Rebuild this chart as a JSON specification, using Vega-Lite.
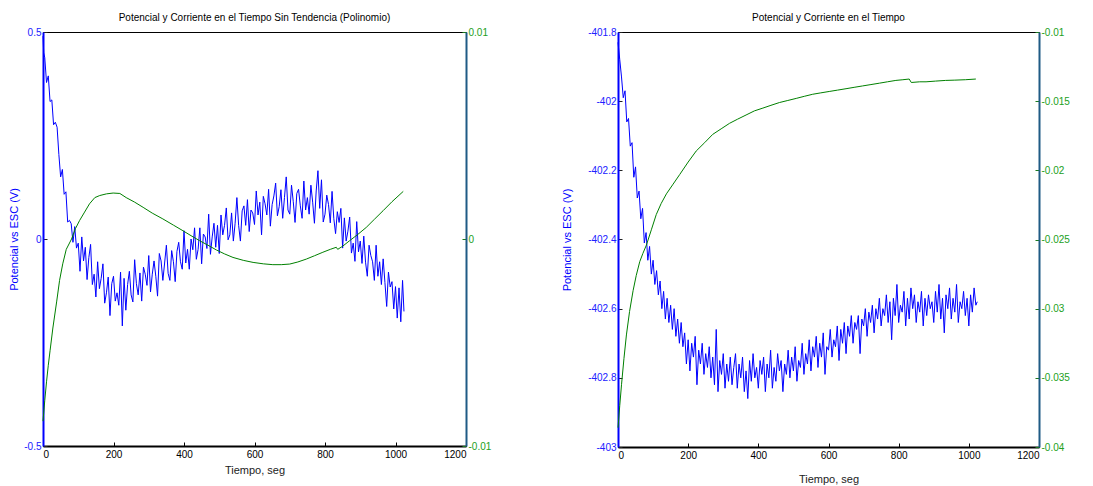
{
  "$schema": "https://vega.github.io/schema/vega-lite/v6.json",
  "background": "white",
  "padding": {"left": 7, "top": 12, "right": 0, "bottom": 0},
  "spacing": 68,
  "config": {
    "locale": {"number": {"decimal": ".", "thousands": ",", "grouping": [3], "currency": ["", ""], "minus": "-"}},
    "view": {"stroke": "black", "strokeWidth": 1},
    "font": "Liberation Sans",
    "axis": {"grid": false, "labelFont": "Liberation Sans", "labelFontSize": 10, "titleFont": "Liberation Sans", "titleFontSize": 11, "titleFontWeight": "normal", "tickSize": -4, "labelPadding": 7},
    "title": {"font": "Liberation Sans", "fontSize": 10, "fontWeight": "normal", "color": "black", "offset": 4}
  },
  "datasets": {
    "pot_izq": [
      {"tiempo":0,"valor":0.49},{"tiempo":2,"valor":0.45},{"tiempo":5,"valor":0.438},{"tiempo":10,"valor":0.378},{"tiempo":15,"valor":0.394},{"tiempo":20,"valor":0.332},{"tiempo":25,"valor":0.336},{"tiempo":30,"valor":0.276},{"tiempo":35,"valor":0.282},{"tiempo":40,"valor":0.27},{"tiempo":45,"valor":0.204},{"tiempo":50,"valor":0.15},{"tiempo":55,"valor":0.168},{"tiempo":60,"valor":0.108},{"tiempo":65,"valor":0.114},{"tiempo":70,"valor":0.041},{"tiempo":75,"valor":0.045},{"tiempo":80,"valor":0.037},{"tiempo":85,"valor":-0.008},{"tiempo":90,"valor":0.03},{"tiempo":95,"valor":-0.022},
      {"tiempo":100,"valor":-0.01},{"tiempo":105,"valor":-0.078},{"tiempo":110,"valor":0.005},{"tiempo":115,"valor":-0.053},{"tiempo":120,"valor":-0.02},{"tiempo":125,"valor":-0.098},{"tiempo":130,"valor":-0.045},{"tiempo":135,"valor":-0.013},{"tiempo":140,"valor":-0.11},{"tiempo":145,"valor":-0.085},{"tiempo":150,"valor":-0.14},{"tiempo":155,"valor":-0.055},{"tiempo":160,"valor":-0.12},{"tiempo":165,"valor":-0.095},{"tiempo":170,"valor":-0.06},{"tiempo":175,"valor":-0.155},{"tiempo":180,"valor":-0.13},{"tiempo":185,"valor":-0.092},{"tiempo":190,"valor":-0.185},{"tiempo":195,"valor":-0.108},
      {"tiempo":200,"valor":-0.09},{"tiempo":205,"valor":-0.15},{"tiempo":210,"valor":-0.13},{"tiempo":215,"valor":-0.16},{"tiempo":220,"valor":-0.08},{"tiempo":225,"valor":-0.21},{"tiempo":230,"valor":-0.095},{"tiempo":235,"valor":-0.172},{"tiempo":240,"valor":-0.11},{"tiempo":245,"valor":-0.078},{"tiempo":250,"valor":-0.135},{"tiempo":255,"valor":-0.152},{"tiempo":260,"valor":-0.05},{"tiempo":265,"valor":-0.108},{"tiempo":270,"valor":-0.135},{"tiempo":275,"valor":-0.082},{"tiempo":280,"valor":-0.15},{"tiempo":285,"valor":-0.068},{"tiempo":290,"valor":-0.085},{"tiempo":295,"valor":-0.112},
      {"tiempo":300,"valor":-0.04},{"tiempo":305,"valor":-0.128},{"tiempo":310,"valor":-0.085},{"tiempo":315,"valor":-0.053},{"tiempo":320,"valor":-0.09},{"tiempo":325,"valor":-0.138},{"tiempo":330,"valor":-0.035},{"tiempo":335,"valor":-0.053},{"tiempo":340,"valor":-0.1},{"tiempo":345,"valor":-0.058},{"tiempo":350,"valor":-0.015},{"tiempo":355,"valor":-0.083},{"tiempo":360,"valor":-0.1},{"tiempo":365,"valor":-0.028},{"tiempo":370,"valor":-0.055},{"tiempo":375,"valor":-0.103},{"tiempo":380,"valor":-0.03},{"tiempo":385,"valor":-0.008},{"tiempo":390,"valor":-0.055},{"tiempo":395,"valor":-0.073},
      {"tiempo":400,"valor":0.02},{"tiempo":405,"valor":-0.058},{"tiempo":410,"valor":-0.025},{"tiempo":415,"valor":-0.073},{"tiempo":420,"valor":0.0},{"tiempo":425,"valor":-0.026},{"tiempo":430,"valor":0.027},{"tiempo":435,"valor":-0.049},{"tiempo":440,"valor":-0.025},{"tiempo":445,"valor":0.027},{"tiempo":450,"valor":-0.06},{"tiempo":455,"valor":0.012},{"tiempo":460,"valor":0.005},{"tiempo":465,"valor":-0.023},{"tiempo":470,"valor":0.06},{"tiempo":475,"valor":-0.037},{"tiempo":480,"valor":0.005},{"tiempo":485,"valor":0.038},{"tiempo":490,"valor":-0.02},{"tiempo":495,"valor":0.033},
      {"tiempo":500,"valor":-0.035},{"tiempo":505,"valor":0.058},{"tiempo":510,"valor":0.01},{"tiempo":515,"valor":0.033},{"tiempo":520,"valor":0.075},{"tiempo":525,"valor":-0.002},{"tiempo":530,"valor":0.01},{"tiempo":535,"valor":0.063},{"tiempo":540,"valor":-0.005},{"tiempo":545,"valor":0.038},{"tiempo":550,"valor":0.1},{"tiempo":555,"valor":0.033},{"tiempo":560,"valor":-0.005},{"tiempo":565,"valor":0.068},{"tiempo":570,"valor":0.08},{"tiempo":575,"valor":0.033},{"tiempo":580,"valor":0.095},{"tiempo":585,"valor":0.018},{"tiempo":590,"valor":0.07},{"tiempo":595,"valor":0.063},
      {"tiempo":600,"valor":0.035},{"tiempo":605,"valor":0.116},{"tiempo":610,"valor":0.058},{"tiempo":615,"valor":0.089},{"tiempo":620,"valor":0.01},{"tiempo":625,"valor":0.103},{"tiempo":630,"valor":0.085},{"tiempo":635,"valor":0.058},{"tiempo":640,"valor":0.12},{"tiempo":645,"valor":0.031},{"tiempo":650,"valor":0.083},{"tiempo":655,"valor":0.104},{"tiempo":660,"valor":0.135},{"tiempo":665,"valor":0.056},{"tiempo":670,"valor":0.078},{"tiempo":675,"valor":0.119},{"tiempo":680,"valor":0.05},{"tiempo":685,"valor":0.1},{"tiempo":690,"valor":0.15},{"tiempo":695,"valor":0.07},
      {"tiempo":700,"valor":0.06},{"tiempo":705,"valor":0.13},{"tiempo":710,"valor":0.09},{"tiempo":715,"valor":0.04},{"tiempo":720,"valor":0.11},{"tiempo":725,"valor":0.12},{"tiempo":730,"valor":0.08},{"tiempo":735,"valor":0.05},{"tiempo":740,"valor":0.14},{"tiempo":745,"valor":0.07},{"tiempo":750,"valor":0.1},{"tiempo":755,"valor":0.06},{"tiempo":760,"valor":0.13},{"tiempo":765,"valor":0.089},{"tiempo":770,"valor":0.038},{"tiempo":775,"valor":0.116},{"tiempo":780,"valor":0.165},{"tiempo":785,"valor":0.074},{"tiempo":790,"valor":0.143},{"tiempo":795,"valor":0.041},
      {"tiempo":800,"valor":0.06},{"tiempo":805,"valor":0.106},{"tiempo":810,"valor":0.083},{"tiempo":815,"valor":0.039},{"tiempo":820,"valor":0.115},{"tiempo":825,"valor":0.049},{"tiempo":830,"valor":0.013},{"tiempo":835,"valor":0.066},{"tiempo":840,"valor":0.04},{"tiempo":845,"valor":0.074},{"tiempo":850,"valor":-0.022},{"tiempo":855,"valor":0.051},{"tiempo":860,"valor":-0.005},{"tiempo":865,"valor":0.019},{"tiempo":870,"valor":0.053},{"tiempo":875,"valor":-0.034},{"tiempo":880,"valor":-0.01},{"tiempo":885,"valor":-0.054},{"tiempo":890,"valor":0.042},{"tiempo":895,"valor":-0.031},
      {"tiempo":900,"valor":-0.005},{"tiempo":905,"valor":-0.059},{"tiempo":910,"valor":0.007},{"tiempo":915,"valor":-0.056},{"tiempo":920,"valor":-0.09},{"tiempo":925,"valor":-0.015},{"tiempo":930,"valor":-0.04},{"tiempo":935,"valor":-0.055},{"tiempo":940,"valor":-0.1},{"tiempo":945,"valor":-0.015},{"tiempo":950,"valor":-0.09},{"tiempo":955,"valor":-0.055},{"tiempo":960,"valor":-0.11},{"tiempo":965,"valor":-0.048},{"tiempo":970,"valor":-0.105},{"tiempo":975,"valor":-0.163},{"tiempo":980,"valor":-0.08},{"tiempo":985,"valor":-0.116},{"tiempo":990,"valor":-0.103},{"tiempo":995,"valor":-0.169},
      {"tiempo":1000,"valor":-0.115},{"tiempo":1005,"valor":-0.191},{"tiempo":1010,"valor":-0.118},{"tiempo":1015,"valor":-0.2},{"tiempo":1020,"valor":-0.1},{"tiempo":1024,"valor":-0.175}
    ],
    "cor_izq": [
      {"tiempo":0,"valor":-0.0088},{"tiempo":5,"valor":-0.0078},{"tiempo":10,"valor":-0.0069},{"tiempo":15,"valor":-0.0061},{"tiempo":20,"valor":-0.0054},{"tiempo":28,"valor":-0.0043},{"tiempo":39,"valor":-0.003},{"tiempo":47,"valor":-0.002},{"tiempo":56,"valor":-0.0012},{"tiempo":66,"valor":-0.0005},{"tiempo":81,"valor":0.0},{"tiempo":92,"valor":0.0005},{"tiempo":104,"valor":0.0009},{"tiempo":118,"valor":0.0013},{"tiempo":132,"valor":0.0017},{"tiempo":147,"valor":0.002},{"tiempo":161,"valor":0.0021},{"tiempo":180,"valor":0.00218},{"tiempo":199,"valor":0.00222},{"tiempo":218,"valor":0.0022},{"tiempo":236,"valor":0.002},{"tiempo":260,"valor":0.00178},{"tiempo":284,"valor":0.00153},{"tiempo":310,"valor":0.00125},{"tiempo":340,"valor":0.00097},{"tiempo":370,"valor":0.00067},{"tiempo":397,"valor":0.0004},{"tiempo":420,"valor":0.00016},{"tiempo":444,"valor":-0.00008},{"tiempo":468,"valor":-0.0003},{"tiempo":492,"valor":-0.00053},{"tiempo":515,"valor":-0.00072},{"tiempo":539,"valor":-0.00089},{"tiempo":568,"valor":-0.00103},{"tiempo":596,"valor":-0.00113},{"tiempo":625,"valor":-0.0012},{"tiempo":652,"valor":-0.00124},{"tiempo":676,"valor":-0.00124},{"tiempo":700,"valor":-0.00121},{"tiempo":723,"valor":-0.00111},{"tiempo":747,"valor":-0.00097},{"tiempo":770,"valor":-0.00081},{"tiempo":794,"valor":-0.00064},{"tiempo":815,"valor":-0.0005},{"tiempo":832,"valor":-0.0004},{"tiempo":836,"valor":-0.0005},{"tiempo":850,"valor":-0.00035},{"tiempo":870,"valor":-0.00008},{"tiempo":893,"valor":0.00022},{"tiempo":917,"valor":0.00056},{"tiempo":940,"valor":0.00095},{"tiempo":965,"valor":0.00137},{"tiempo":990,"valor":0.0018},{"tiempo":1022,"valor":0.0023}
    ],
    "pot_der": [
      {"tiempo":0,"valor":-401.83},{"tiempo":5,"valor":-401.88},{"tiempo":10,"valor":-401.93},{"tiempo":15,"valor":-401.99},{"tiempo":20,"valor":-401.97},{"tiempo":25,"valor":-402.06},{"tiempo":30,"valor":-402.05},{"tiempo":35,"valor":-402.13},{"tiempo":40,"valor":-402.12},{"tiempo":45,"valor":-402.22},{"tiempo":50,"valor":-402.19},{"tiempo":55,"valor":-402.28},{"tiempo":60,"valor":-402.26},{"tiempo":65,"valor":-402.34},{"tiempo":70,"valor":-402.31},{"tiempo":75,"valor":-402.41},{"tiempo":80,"valor":-402.38},{"tiempo":85,"valor":-402.46},{"tiempo":90,"valor":-402.42},{"tiempo":95,"valor":-402.5},
      {"tiempo":100,"valor":-402.46},{"tiempo":105,"valor":-402.53},{"tiempo":110,"valor":-402.49},{"tiempo":115,"valor":-402.56},{"tiempo":120,"valor":-402.52},{"tiempo":125,"valor":-402.6},{"tiempo":130,"valor":-402.55},{"tiempo":135,"valor":-402.63},{"tiempo":140,"valor":-402.57},{"tiempo":145,"valor":-402.64},{"tiempo":150,"valor":-402.59},{"tiempo":155,"valor":-402.66},{"tiempo":160,"valor":-402.6},{"tiempo":165,"valor":-402.68},{"tiempo":170,"valor":-402.63},{"tiempo":175,"valor":-402.7},{"tiempo":180,"valor":-402.64},{"tiempo":185,"valor":-402.71},{"tiempo":190,"valor":-402.67},{"tiempo":195,"valor":-402.76},
      {"tiempo":200,"valor":-402.69},{"tiempo":205,"valor":-402.78},{"tiempo":210,"valor":-402.7},{"tiempo":215,"valor":-402.74},{"tiempo":220,"valor":-402.68},{"tiempo":225,"valor":-402.82},{"tiempo":230,"valor":-402.72},{"tiempo":235,"valor":-402.76},{"tiempo":240,"valor":-402.7},{"tiempo":245,"valor":-402.79},{"tiempo":250,"valor":-402.73},{"tiempo":255,"valor":-402.77},{"tiempo":260,"valor":-402.71},{"tiempo":265,"valor":-402.8},{"tiempo":270,"valor":-402.74},{"tiempo":275,"valor":-402.82},{"tiempo":280,"valor":-402.66},{"tiempo":285,"valor":-402.84},{"tiempo":290,"valor":-402.75},{"tiempo":295,"valor":-402.79},
      {"tiempo":300,"valor":-402.73},{"tiempo":305,"valor":-402.83},{"tiempo":310,"valor":-402.76},{"tiempo":315,"valor":-402.81},{"tiempo":320,"valor":-402.74},{"tiempo":325,"valor":-402.82},{"tiempo":330,"valor":-402.77},{"tiempo":335,"valor":-402.73},{"tiempo":340,"valor":-402.83},{"tiempo":345,"valor":-402.76},{"tiempo":350,"valor":-402.8},{"tiempo":355,"valor":-402.74},{"tiempo":360,"valor":-402.84},{"tiempo":365,"valor":-402.78},{"tiempo":370,"valor":-402.86},{"tiempo":375,"valor":-402.75},{"tiempo":380,"valor":-402.81},{"tiempo":385,"valor":-402.73},{"tiempo":390,"valor":-402.8},{"tiempo":395,"valor":-402.77},
      {"tiempo":400,"valor":-402.83},{"tiempo":405,"valor":-402.75},{"tiempo":410,"valor":-402.79},{"tiempo":415,"valor":-402.74},{"tiempo":420,"valor":-402.84},{"tiempo":425,"valor":-402.76},{"tiempo":430,"valor":-402.8},{"tiempo":435,"valor":-402.72},{"tiempo":440,"valor":-402.83},{"tiempo":445,"valor":-402.77},{"tiempo":450,"valor":-402.81},{"tiempo":455,"valor":-402.73},{"tiempo":460,"valor":-402.78},{"tiempo":465,"valor":-402.75},{"tiempo":470,"valor":-402.84},{"tiempo":475,"valor":-402.76},{"tiempo":480,"valor":-402.79},{"tiempo":485,"valor":-402.72},{"tiempo":490,"valor":-402.8},{"tiempo":495,"valor":-402.74},
      {"tiempo":500,"valor":-402.78},{"tiempo":505,"valor":-402.71},{"tiempo":510,"valor":-402.81},{"tiempo":515,"valor":-402.75},{"tiempo":520,"valor":-402.77},{"tiempo":525,"valor":-402.7},{"tiempo":530,"valor":-402.79},{"tiempo":535,"valor":-402.73},{"tiempo":540,"valor":-402.76},{"tiempo":545,"valor":-402.69},{"tiempo":550,"valor":-402.78},{"tiempo":555,"valor":-402.71},{"tiempo":560,"valor":-402.74},{"tiempo":565,"valor":-402.68},{"tiempo":570,"valor":-402.77},{"tiempo":575,"valor":-402.7},{"tiempo":580,"valor":-402.74},{"tiempo":585,"valor":-402.67},{"tiempo":590,"valor":-402.79},{"tiempo":595,"valor":-402.71},
      {"tiempo":600,"valor":-402.72},{"tiempo":605,"valor":-402.66},{"tiempo":610,"valor":-402.74},{"tiempo":615,"valor":-402.69},{"tiempo":620,"valor":-402.71},{"tiempo":625,"valor":-402.65},{"tiempo":630,"valor":-402.75},{"tiempo":635,"valor":-402.66},{"tiempo":640,"valor":-402.7},{"tiempo":645,"valor":-402.64},{"tiempo":650,"valor":-402.73},{"tiempo":655,"valor":-402.65},{"tiempo":660,"valor":-402.68},{"tiempo":665,"valor":-402.62},{"tiempo":670,"valor":-402.7},{"tiempo":675,"valor":-402.64},{"tiempo":680,"valor":-402.66},{"tiempo":685,"valor":-402.62},{"tiempo":690,"valor":-402.73},{"tiempo":695,"valor":-402.63},
      {"tiempo":700,"valor":-402.65},{"tiempo":705,"valor":-402.6},{"tiempo":710,"valor":-402.68},{"tiempo":715,"valor":-402.61},{"tiempo":720,"valor":-402.64},{"tiempo":725,"valor":-402.59},{"tiempo":730,"valor":-402.67},{"tiempo":735,"valor":-402.6},{"tiempo":740,"valor":-402.63},{"tiempo":745,"valor":-402.57},{"tiempo":750,"valor":-402.65},{"tiempo":755,"valor":-402.6},{"tiempo":760,"valor":-402.62},{"tiempo":765,"valor":-402.56},{"tiempo":770,"valor":-402.64},{"tiempo":775,"valor":-402.58},{"tiempo":780,"valor":-402.69},{"tiempo":785,"valor":-402.57},{"tiempo":790,"valor":-402.62},{"tiempo":795,"valor":-402.53},
      {"tiempo":800,"valor":-402.64},{"tiempo":805,"valor":-402.59},{"tiempo":810,"valor":-402.61},{"tiempo":815,"valor":-402.55},{"tiempo":820,"valor":-402.65},{"tiempo":825,"valor":-402.57},{"tiempo":830,"valor":-402.63},{"tiempo":835,"valor":-402.54},{"tiempo":840,"valor":-402.6},{"tiempo":845,"valor":-402.56},{"tiempo":850,"valor":-402.64},{"tiempo":855,"valor":-402.58},{"tiempo":860,"valor":-402.61},{"tiempo":865,"valor":-402.55},{"tiempo":870,"valor":-402.65},{"tiempo":875,"valor":-402.57},{"tiempo":880,"valor":-402.62},{"tiempo":885,"valor":-402.56},{"tiempo":890,"valor":-402.6},{"tiempo":895,"valor":-402.58},
      {"tiempo":900,"valor":-402.64},{"tiempo":905,"valor":-402.55},{"tiempo":910,"valor":-402.61},{"tiempo":915,"valor":-402.53},{"tiempo":920,"valor":-402.63},{"tiempo":925,"valor":-402.57},{"tiempo":930,"valor":-402.67},{"tiempo":935,"valor":-402.56},{"tiempo":940,"valor":-402.6},{"tiempo":945,"valor":-402.54},{"tiempo":950,"valor":-402.63},{"tiempo":955,"valor":-402.57},{"tiempo":960,"valor":-402.61},{"tiempo":965,"valor":-402.53},{"tiempo":970,"valor":-402.64},{"tiempo":975,"valor":-402.58},{"tiempo":980,"valor":-402.6},{"tiempo":985,"valor":-402.55},{"tiempo":990,"valor":-402.62},{"tiempo":995,"valor":-402.57},
      {"tiempo":1000,"valor":-402.65},{"tiempo":1005,"valor":-402.56},{"tiempo":1010,"valor":-402.61},{"tiempo":1015,"valor":-402.54},{"tiempo":1020,"valor":-402.59},{"tiempo":1024,"valor":-402.58}
    ],
    "cor_der": [
      {"tiempo":0,"valor":-0.0386},{"tiempo":5,"valor":-0.037},{"tiempo":10,"valor":-0.0355},{"tiempo":17,"valor":-0.0336},{"tiempo":24,"valor":-0.0319},{"tiempo":33,"valor":-0.0302},{"tiempo":43,"valor":-0.0287},{"tiempo":52,"valor":-0.0276},{"tiempo":62,"valor":-0.0266},{"tiempo":71,"valor":-0.026},{"tiempo":81,"valor":-0.0254},{"tiempo":95,"valor":-0.0243},{"tiempo":109,"valor":-0.0232},{"tiempo":123,"valor":-0.0224},{"tiempo":138,"valor":-0.0217},{"tiempo":157,"valor":-0.021},{"tiempo":176,"valor":-0.0203},{"tiempo":200,"valor":-0.0194},{"tiempo":223,"valor":-0.0186},{"tiempo":247,"valor":-0.018},{"tiempo":270,"valor":-0.0174},{"tiempo":294,"valor":-0.017},{"tiempo":318,"valor":-0.0166},{"tiempo":341,"valor":-0.0163},{"tiempo":365,"valor":-0.016},{"tiempo":389,"valor":-0.0157},{"tiempo":413,"valor":-0.0155},{"tiempo":436,"valor":-0.0153},{"tiempo":460,"valor":-0.0151},{"tiempo":484,"valor":-0.01495},{"tiempo":508,"valor":-0.0148},{"tiempo":531,"valor":-0.01465},{"tiempo":555,"valor":-0.0145},{"tiempo":578,"valor":-0.0144},{"tiempo":602,"valor":-0.0143},{"tiempo":626,"valor":-0.0142},{"tiempo":650,"valor":-0.0141},{"tiempo":673,"valor":-0.014},{"tiempo":697,"valor":-0.0139},{"tiempo":721,"valor":-0.0138},{"tiempo":745,"valor":-0.0137},{"tiempo":768,"valor":-0.0136},{"tiempo":792,"valor":-0.0135},{"tiempo":812,"valor":-0.01345},{"tiempo":830,"valor":-0.0134},{"tiempo":836,"valor":-0.01365},{"tiempo":860,"valor":-0.0136},{"tiempo":878,"valor":-0.0136},{"tiempo":905,"valor":-0.01355},{"tiempo":934,"valor":-0.0135},{"tiempo":960,"valor":-0.01348},{"tiempo":990,"valor":-0.01345},{"tiempo":1020,"valor":-0.0134}
    ]
  },
  "hconcat": [
    {
      "width": 423,
      "height": 414,
      "title": "Potencial y Corriente en el Tiempo Sin Tendencia (Polinomio)",
      "layer": [
        {
          "data": {"name": "pot_izq"},
          "mark": {"type": "line", "color": "#0000ff", "strokeWidth": 1},
          "encoding": {
            "x": {"field": "tiempo", "type": "quantitative", "scale": {"domain": [0, 1200], "nice": false}, "axis": {"values": [0, 200, 400, 600, 800, 1000, 1200], "format": "d", "title": "Tiempo, seg", "titleColor": "#222222", "labelColor": "#000000", "domainColor": "#000000", "domainWidth": 2, "tickColor": "#000000", "labelPadding": 7, "titlePadding": 5}},
            "y": {"field": "valor", "type": "quantitative", "scale": {"domain": [-0.5, 0.5], "nice": false}, "axis": {"values": [-0.5, 0, 0.5], "format": "~g", "title": "Potencial vs ESC (V)", "titleColor": "#0000ff", "labelColor": "#2020ff", "domainColor": "#0000ff", "domainWidth": 2, "tickColor": "#222222", "labelPadding": 6, "titleX": -24}}
          }
        },
        {
          "data": {"name": "cor_izq"},
          "mark": {"type": "line", "color": "#008000", "strokeWidth": 1},
          "encoding": {
            "x": {"field": "tiempo", "type": "quantitative"},
            "y": {"field": "valor", "type": "quantitative", "scale": {"domain": [-0.01, 0.01], "nice": false}, "axis": {"orient": "right", "values": [-0.01, 0, 0.01], "format": "~g", "title": null, "labelColor": "#22a022", "domainColor": "#1f5b85", "domainWidth": 2, "tickColor": "#1a7a1a", "labelPadding": 6}}
          }
        }
      ],
      "resolve": {"scale": {"y": "independent"}}
    },
    {
      "width": 421,
      "height": 415,
      "title": "Potencial y Corriente en el Tiempo",
      "layer": [
        {
          "data": {"name": "pot_der"},
          "mark": {"type": "line", "color": "#0000ff", "strokeWidth": 1},
          "encoding": {
            "x": {"field": "tiempo", "type": "quantitative", "scale": {"domain": [0, 1200], "nice": false}, "axis": {"values": [0, 200, 400, 600, 800, 1000, 1200], "format": "d", "title": "Tiempo, seg", "titleColor": "#222222", "labelColor": "#000000", "domainColor": "#000000", "domainWidth": 2, "tickColor": "#000000", "labelPadding": 7, "titlePadding": 13}},
            "y": {"field": "valor", "type": "quantitative", "scale": {"domain": [-403, -401.8], "nice": false}, "axis": {"values": [-403, -402.8, -402.6, -402.4, -402.2, -402, -401.8], "format": "~g", "title": "Potencial vs ESC (V)", "titleColor": "#0000ff", "labelColor": "#2020ff", "domainColor": "#0000ff", "domainWidth": 2, "tickColor": "#222222", "labelPadding": 6, "titleX": -46}}
          }
        },
        {
          "data": {"name": "cor_der"},
          "mark": {"type": "line", "color": "#008000", "strokeWidth": 1},
          "encoding": {
            "x": {"field": "tiempo", "type": "quantitative"},
            "y": {"field": "valor", "type": "quantitative", "scale": {"domain": [-0.04, -0.01], "nice": false}, "axis": {"orient": "right", "values": [-0.04, -0.035, -0.03, -0.025, -0.02, -0.015, -0.01], "format": "~g", "title": null, "labelColor": "#22a022", "domainColor": "#1f5b85", "domainWidth": 2, "tickColor": "#1a7a1a", "labelPadding": 6}}
          }
        }
      ],
      "resolve": {"scale": {"y": "independent"}}
    }
  ]
}
